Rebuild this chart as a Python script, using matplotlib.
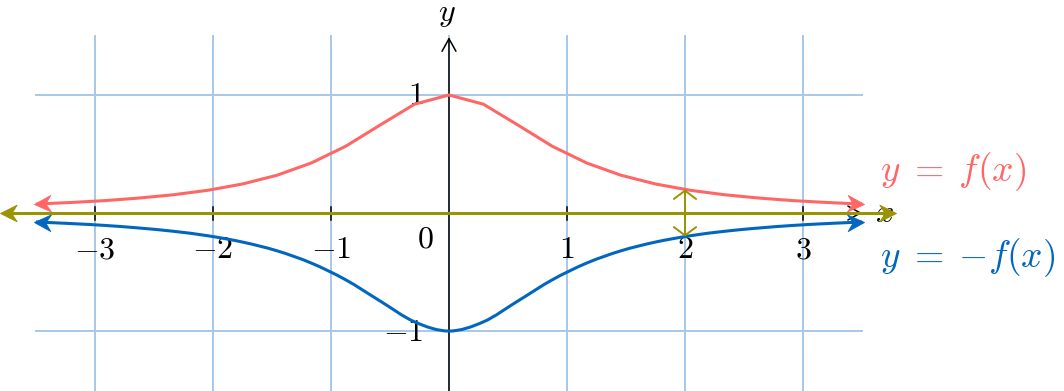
import numpy as np
import matplotlib
matplotlib.use("Agg")
import matplotlib.pyplot as plt
from matplotlib.path import Path
from matplotlib.patches import PathPatch
from matplotlib.markers import MarkerStyle
from matplotlib.transforms import Affine2D

plt.rcParams["mathtext.fontset"] = "cm"

# muestras (25 puntos entre -3.5 y 3.5)
x_muestras = [-3.5, -3.208, -2.917, -2.625, -2.333, -2.042, -1.75, -1.458, -1.167,
              -0.875, -0.583, -0.292, 0.0, 0.292, 0.583, 0.875, 1.167, 1.458,
              1.75, 2.042, 2.333, 2.625, 2.917, 3.208, 3.5]
y_f = [0.076, 0.089, 0.105, 0.127, 0.155, 0.193, 0.246, 0.320, 0.424, 0.566,
       0.746, 0.922, 1.0, 0.922, 0.746, 0.566, 0.424, 0.320, 0.246, 0.193,
       0.155, 0.127, 0.105, 0.089, 0.076]
y_menos_f = [-v for v in y_f]

ticks_x = [-3, -2, -1, 1, 2, 3]
etiquetas_x = ["$-3$", "$-2$", "$-1$", "$1$", "$2$", "$3$"]
ticks_y = [-1, 1]
etiquetas_y = ["$-1$", "$1$"]

# flechas verticales en x = 2
flecha_x = 2
flecha_arriba = 0.2
flecha_abajo = -0.2

ROJO = "#ff6666"
AZUL = "#0066bf"
OLIVA = "#9a9400"
REJILLA = "#a6c8e8"

fig = plt.figure(figsize=(10.64, 3.91), dpi=100)
ax = fig.add_axes([0, 0, 1, 1])
ax.set_xlim(-3.805, 5.212)
ax.set_ylim(-1.508, 1.805)
ax.axis("off")

# punta tipo stealth
verts = [(0, 0), (-1, 0.5), (-0.68, 0), (-1, -0.5), (0, 0)]
codes = [Path.MOVETO, Path.LINETO, Path.LINETO, Path.LINETO, Path.CLOSEPOLY]
stealth = Path(verts, codes)


def punta(x0, y0, x1, y1, color, ms, z):
    ang = np.arctan2(y1 - y0, x1 - x0)
    d = 0.015
    m = MarkerStyle(stealth, transform=Affine2D().rotate(ang))
    ax.plot([x1 + d * np.cos(ang)], [y1 + d * np.sin(ang)], marker=m, ms=ms,
            color=color, mec=color, mew=0.6, zorder=z, linestyle="none")


# rejilla
for t in [-3, -2, -1, 0, 1, 2, 3]:
    ax.plot([t, t], [-1.51, 1.5], color=REJILLA, lw=1.4, zorder=1)
for t in [-1, 0, 1]:
    ax.plot([-3.5, 3.5], [t, t], color=REJILLA, lw=1.4, zorder=1)

# ejes
ax.annotate("", xy=(3.5, 0), xytext=(-3.5, 0),
            arrowprops=dict(arrowstyle="->, head_length=0.9, head_width=0.5",
                            color="black", lw=1.1, shrinkA=0, shrinkB=0,
                            mutation_scale=10), zorder=3)
ax.annotate("", xy=(0, 1.49), xytext=(0, -1.52),
            arrowprops=dict(arrowstyle="->, head_length=0.9, head_width=0.5",
                            color="black", lw=1.1, shrinkA=0, shrinkB=0,
                            mutation_scale=10), zorder=3)
for t in ticks_x:
    ax.plot([t, t], [-0.055, 0.055], color="black", lw=1.1, zorder=3)

# etiquetas
for t, e in zip(ticks_x, etiquetas_x):
    ax.text(t, -0.31, e, fontsize=23, ha="center", va="center", zorder=2)
ax.text(-0.2, -0.22, "$0$", fontsize=23, ha="center", va="center", zorder=2)
ax.text(-0.28, 1.0, etiquetas_y[1], fontsize=23, ha="center", va="center", zorder=2)
ax.text(-0.39, -1.01, etiquetas_y[0], fontsize=23, ha="center", va="center", zorder=2)
ax.text(-0.02, 1.69, "$y$", fontsize=23, ha="center", va="center")
ax.text(3.69, 0.0, "$x$", fontsize=23, ha="center", va="center", zorder=2)

# y = f(x): linea quebrada
ax.plot(x_muestras, y_f, color=ROJO, lw=2.2, zorder=4, solid_capstyle="butt")
punta(x_muestras[1], y_f[1], x_muestras[0], y_f[0], ROJO, 24, 5)
punta(x_muestras[-2], y_f[-2], x_muestras[-1], y_f[-1], ROJO, 24, 5)

# y = -f(x): curva suave (bezier por los puntos)
p = np.column_stack([x_muestras, y_menos_f])
vs = [p[0]]
cs = [Path.MOVETO]
for i in range(len(p) - 1):
    a = p[i - 1] if i > 0 else p[i]
    b = p[i + 2] if i + 2 < len(p) else p[i + 1]
    c1 = p[i] + (p[i + 1] - a) / 6
    c2 = p[i + 1] - (b - p[i]) / 6
    vs += [c1, c2, p[i + 1]]
    cs += [Path.CURVE4] * 3
ax.add_patch(PathPatch(Path(vs, cs), fill=False, edgecolor=AZUL, lw=2.2,
                       zorder=4, capstyle="butt"))
punta(x_muestras[1], y_menos_f[1], x_muestras[0], y_menos_f[0], AZUL, 24, 5)
punta(x_muestras[-2], y_menos_f[-2], x_muestras[-1], y_menos_f[-1], AZUL, 24, 5)

# linea oliva sobre el eje x
ax.plot([-3.78, 3.76], [0, 0], color=OLIVA, lw=2.2, zorder=6, solid_capstyle="butt")
punta(0, 0, -3.79, 0, OLIVA, 24, 6)
punta(0, 0, 3.77, 0, OLIVA, 24, 6)

# flechas en x = 2
for y1 in [flecha_arriba, flecha_abajo]:
    ax.annotate("", xy=(flecha_x, y1), xytext=(flecha_x, 0),
                arrowprops=dict(arrowstyle="->, head_length=0.6, head_width=0.8",
                                color=OLIVA, lw=1.4, shrinkA=0, shrinkB=0,
                                mutation_scale=10), zorder=6)

# textos de las curvas
ax.text(3.65, 0.35, r"$y\;=\;f(x)$", color=ROJO, fontsize=27, ha="left", va="center")
ax.text(3.65, -0.38, r"$y\;=\;{-}f(x)$", color=AZUL, fontsize=27, ha="left", va="center")

fig.savefig("out.png", dpi=100)
